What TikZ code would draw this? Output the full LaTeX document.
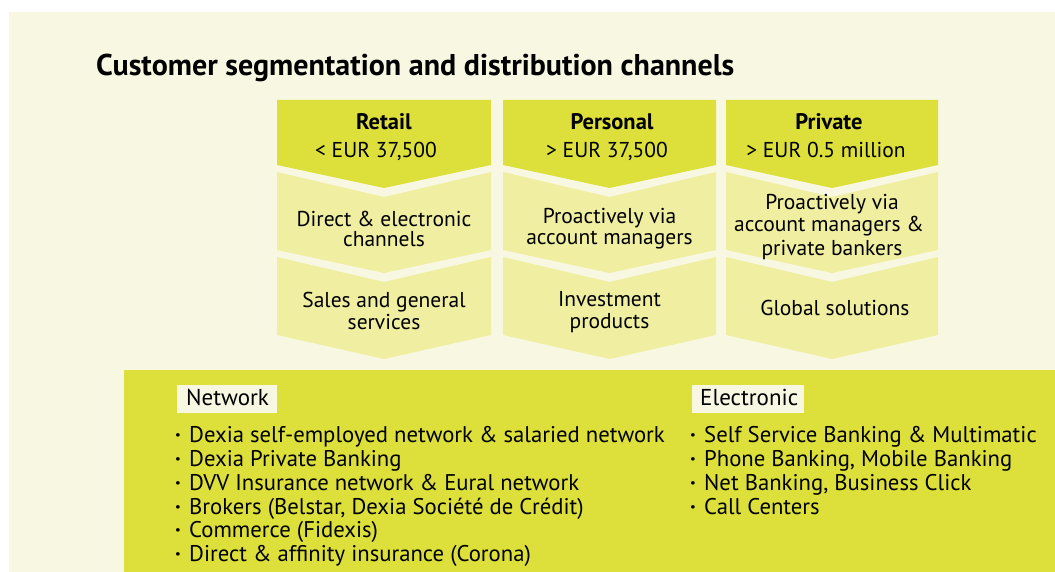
\documentclass[tikz,border=0pt]{standalone}
\usepackage{fontspec}
\setmainfont{PT Sans}
\definecolor{cream}{RGB}{248,248,226}
\definecolor{lime}{RGB}{221,224,58}
\definecolor{pale}{RGB}{240,238,160}
\begin{document}
\begin{tikzpicture}[x=1pt,y=-1pt,
  boxtxt/.style={inner sep=0pt, anchor=base, font=\fontsize{21.5}{23}\selectfont},
  headtxt/.style={boxtxt, font=\fontsize{22.5}{24}\selectfont\bfseries},
  itemtxt/.style={inner sep=0pt, anchor=base west, font=\fontsize{22.7}{24}\selectfont},
  dottxt/.style={itemtxt, font=\fontsize{22.7}{24}\selectfont\bfseries},
  lbltxt/.style={itemtxt, font=\fontsize{23}{24}\selectfont}]
\useasboundingbox (0,0) rectangle (1055,572);
\fill[white] (0,0) rectangle (1055,572);
\fill[cream] (9,12) rectangle (1055,572);

% title
\node[inner sep=0pt, anchor=base west, font=\fontsize{30}{32}\selectfont\bfseries] (title) at (96,76)
  {Customer segmentation and distribution channels};

% three chevron columns
\foreach \L/\R in {277/491, 503/716, 726/938}{
  \pgfmathsetmacro\C{(\L+\R)/2}
  \fill[lime] (\L,100) -- (\R,100) -- (\R,165) -- (\C,188) -- (\L,165) -- cycle;
  \fill[pale] (\L,172) -- (\C,197) -- (\R,172) -- (\R,250) -- (\C,273) -- (\L,250) -- cycle;
  \fill[pale] (\L,257) -- (\C,282) -- (\R,257) -- (\R,335) -- (\C,359) -- (\L,335) -- cycle;
}

% Retail
\node[headtxt] (rh) at (384,130) {Retail};
\node[boxtxt] (rv) at (376,158) {< EUR 37,500};
\node[boxtxt] (ra1) at (384,226) {Direct \& electronic};
\node[boxtxt] (ra2) at (384,247) {channels};
\node[boxtxt] (rb1) at (384,307) {Sales and general};
\node[boxtxt] (rb2) at (384,329) {services};

% Personal
\node[headtxt] (ph) at (612,130) {Personal};
\node[boxtxt] (pv) at (607,158) {> EUR 37,500};
\node[boxtxt] (pa1) at (609.5,223.5) {Proactively via};
\node[boxtxt] (pa2) at (609.5,244.5) {account managers};
\node[boxtxt] (pb1) at (609.5,306) {Investment};
\node[boxtxt] (pb2) at (609.5,328) {products};

% Private
\node[headtxt] (vh) at (829,130) {Private};
\node[boxtxt] (vv) at (826,158) {> EUR 0.5 million};
\node[boxtxt] (va1) at (832,210) {Proactively via};
\node[boxtxt] (va2) at (829,232) {account managers \&};
\node[boxtxt] (va3) at (832,255) {private bankers};
\node[boxtxt] (vb1) at (835,315) {Global solutions};

% distribution channels panel
\fill[lime] (124,370) rectangle (1055,572);
\fill[cream] (177,385) rectangle (277,413);
\fill[cream] (692,385) rectangle (804,413);
\node[lbltxt] (net) at (186,405) {Network};
\node[lbltxt] (ele) at (700,405) {Electronic};

\foreach \t [count=\i] in {
  {Dexia self-employed network \& salaried network},
  {Dexia Private Banking},
  {DVV Insurance network \& Eural network},
  {Brokers (Belstar, Dexia Société de Crédit)},
  {Commerce (Fidexis)},
  {Direct \& affinity insurance (Corona)}}{
  \node[dottxt] (netdot\i) at ({175},{442.7+23.8*(\i-1)}) {·};
  \node[itemtxt] (netitem\i) at ({189},{442.7+23.8*(\i-1)}) {\t};
}
\foreach \t [count=\i] in {
  {Self Service Banking \& Multimatic},
  {Phone Banking, Mobile Banking},
  {Net Banking, Business Click},
  {Call Centers}}{
  \node[dottxt] (eledot\i) at ({690},{442.7+23.8*(\i-1)}) {·};
  \node[itemtxt] (eleitem\i) at ({704},{442.7+23.8*(\i-1)}) {\t};
}
\end{tikzpicture}
\end{document}
